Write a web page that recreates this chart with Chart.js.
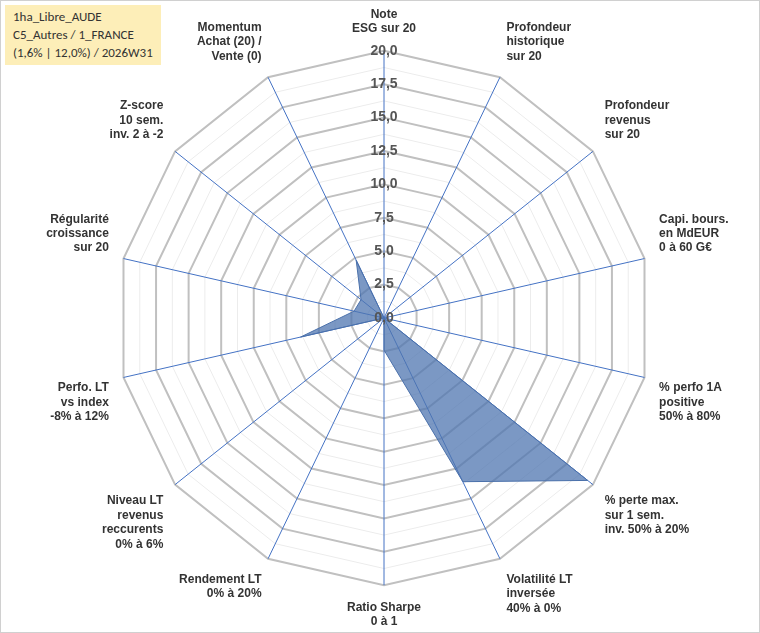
<!DOCTYPE html>
<html><head><meta charset="utf-8">
<script src="https://cdn.jsdelivr.net/npm/chart.js@4/dist/chart.umd.min.js"></script>
<style>
body{margin:0;background:#fff;font-family:"Liberation Sans",Arial,sans-serif}
#wrap{position:relative;width:758px;height:631px;border:1px solid #d0d0d0}
#title{position:absolute;left:4px;top:4px;background:#fdeeb8;padding:3px 8px;font-size:13px;line-height:18px;color:#333;font-family:Calibri,"Liberation Sans",sans-serif}
</style></head><body>
<div id="wrap">
<canvas id="radar" width="758" height="631"></canvas>
<div id="title">1ha_Libre_AUDE<br>C5_Autres / 1_FRANCE<br>(1,6% | 12,0%) / 2026W31</div>
</div>
<script>
const labels = [
  ['Note', 'ESG sur 20'],
  ['Profondeur', 'historique', 'sur 20'],
  ['Profondeur', 'revenus', 'sur 20'],
  ['Capi. bours.', 'en MdEUR', '0 à 60 G€'],
  ['% perfo 1A', 'positive', '50% à 80%'],
  ['% perte max.', 'sur 1 sem.', 'inv. 50% à 20%'],
  ['Volatilité LT', 'inversée', '40% à 0%'],
  ['Ratio Sharpe', '0 à 1'],
  ['Rendement LT', '0% à 20%'],
  ['Niveau LT', 'revenus', 'reccurents', '0% à 6%'],
  ['Perfo. LT', 'vs index', '-8% à 12%'],
  ['Régularité', 'croissance', 'sur 20'],
  ['Z-score', '10 sem.', 'inv. 2 à -2'],
  ['Momentum', 'Achat (20) /', 'Vente (0)']
];
const scores = [0, 0, 0, 0, 0, 19.5, 13.6, 2.4, 0, 0, 6.4, 2.3, 2.2, 4.8];

// label "0,0" at the centre (Chart.js skips it)
const zeroLabel = {
  id: 'zeroLabel',
  afterDraw(chart) {
    const r = chart.scales.r;
    const c = chart.ctx;
    c.save();
    c.font = 'bold 14px "Liberation Sans", Arial, sans-serif';
    c.fillStyle = '#555';
    c.textAlign = 'center';
    c.textBaseline = 'middle';
    c.fillText('0,0', r.xCenter, r.yCenter);
    c.restore();
  }
};

new Chart(document.getElementById('radar').getContext('2d'), {
  type: 'radar',
  data: {
    labels: labels,
    datasets: [{
      data: scores,
      backgroundColor: 'rgba(79,117,176,0.75)',
      borderColor: '#4a70aa',
      borderWidth: 1,
      pointRadius: 0
    }]
  },
  options: {
    responsive: false,
    animation: false,
    layout: { padding: { top: 6, bottom: 2, left: 22, right: 6 } },
    plugins: { legend: { display: false }, tooltip: { enabled: false } },
    scales: {
      r: {
        min: 0, max: 20,
        ticks: {
          stepSize: 1.25,
          showLabelBackdrop: false,
          color: '#555',
          font: { size: 14, weight: 'bold' },
          callback: v => (v % 2.5 === 0) ? v.toFixed(1).replace('.', ',') : ''
        },
        grid: {
          color: ctx => (ctx.tick && ctx.tick.value % 2.5 === 0) ? '#c0c0c0' : '#ececec',
          lineWidth: ctx => (ctx.tick && ctx.tick.value % 2.5 === 0) ? 2 : 1
        },
        angleLines: { color: '#4472c4', lineWidth: 1 },
        pointLabels: { color: '#333', font: { size: 12, weight: 'bold' }, padding: 6 }
      }
    }
  },
  plugins: [zeroLabel]
});
</script>
</body></html>
